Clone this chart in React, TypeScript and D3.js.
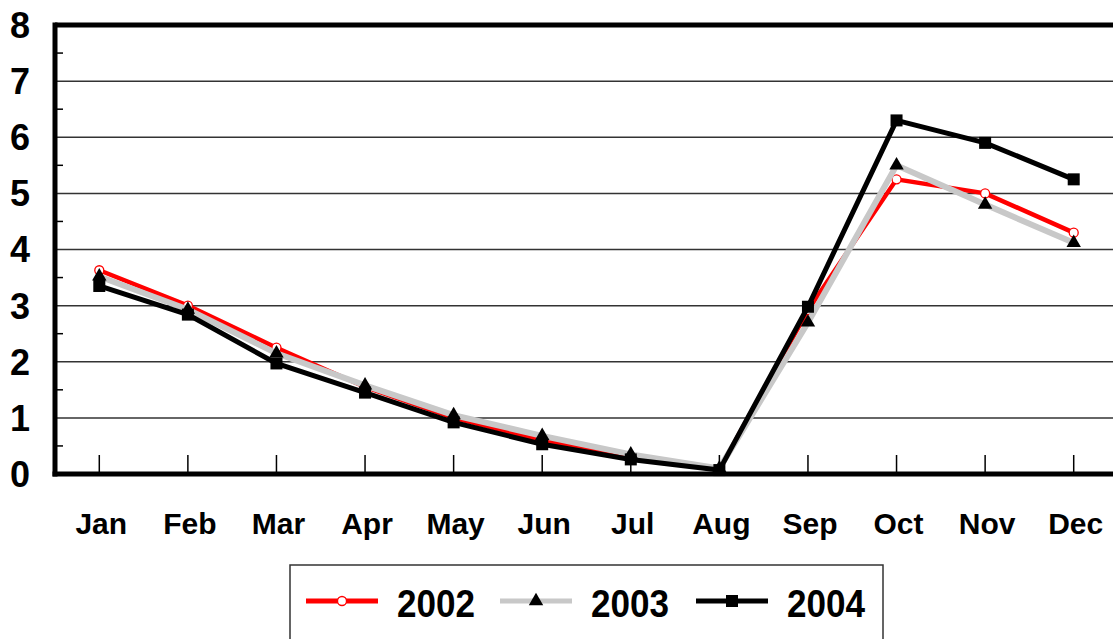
import React, { useEffect, useRef } from "react";
import * as d3 from "d3";

// chart data
const MONTHS = ["Jan", "Feb", "Mar", "Apr", "May", "Jun", "Jul", "Aug", "Sep", "Oct", "Nov", "Dec"];
const Y_TICKS = [0, 1, 2, 3, 4, 5, 6, 7, 8];
const S2002 = [3.63, 3.0, 2.25, 1.55, 1.0, 0.6, 0.3, 0.08, 2.92, 5.25, 5.0, 4.3];
const S2003 = [3.52, 2.93, 2.15, 1.58, 1.05, 0.68, 0.35, 0.1, 2.7, 5.5, 4.8, 4.12];
const S2004 = [3.35, 2.84, 1.97, 1.45, 0.92, 0.53, 0.26, 0.07, 2.98, 6.3, 5.9, 5.25];

const SERIES = [
  { name: "2002", values: S2002, color: "#ff0000", marker: "circle", width: 4.5 },
  { name: "2003", values: S2003, color: "#c8c8c8", marker: "triangle", width: 6 },
  { name: "2004", values: S2004, color: "#000000", marker: "square", width: 5 },
];

const FONT = "Arial, 'Liberation Sans', sans-serif";

export default function App() {
  const svgRef = useRef<SVGSVGElement>(null);
  const width = 1113;
  const height = 639;

  useEffect(() => {
    if (!svgRef.current) return;
    const svg = d3.select(svgRef.current);
    svg.selectAll("*").remove();

    const left = 55;
    const right = 1118; // plot runs past the visible edge
    const top = 25;
    const bottom = 474;

    const x = d3.scaleBand<string>().domain(MONTHS).range([left, right]);
    const cx = (m: string) => (x(m) || 0) + x.bandwidth() / 2;
    const y = d3.scaleLinear().domain([0, 8]).range([bottom, top]);

    const g = svg.append("g");

    // gridlines
    g.selectAll(".grid")
      .data(Y_TICKS.filter((d) => d > 0 && d < 8))
      .join("line")
      .attr("x1", left)
      .attr("x2", right)
      .attr("y1", (d) => y(d))
      .attr("y2", (d) => y(d))
      .attr("stroke", "#333")
      .attr("stroke-width", 1.5);

    // minor y ticks at half units
    g.selectAll(".minor")
      .data(d3.range(0.5, 8, 1))
      .join("line")
      .attr("x1", left)
      .attr("x2", left + 8)
      .attr("y1", (d) => y(d))
      .attr("y2", (d) => y(d))
      .attr("stroke", "#000")
      .attr("stroke-width", 1.5);

    // x ticks
    g.selectAll(".xtick")
      .data(MONTHS)
      .join("line")
      .attr("x1", (d) => cx(d))
      .attr("x2", (d) => cx(d))
      .attr("y1", bottom)
      .attr("y2", bottom - 19)
      .attr("stroke", "#000")
      .attr("stroke-width", 1.5);

    // frame
    g.append("line").attr("x1", left).attr("x2", right).attr("y1", top).attr("y2", top)
      .attr("stroke", "#000").attr("stroke-width", 5);
    g.append("line").attr("x1", left - 2.5).attr("x2", right).attr("y1", bottom).attr("y2", bottom)
      .attr("stroke", "#000").attr("stroke-width", 5);
    g.append("line").attr("x1", left).attr("x2", left).attr("y1", top - 2.5).attr("y2", bottom + 2.5)
      .attr("stroke", "#000").attr("stroke-width", 5);

    // y labels
    g.selectAll(".ylab")
      .data(Y_TICKS)
      .join("text")
      .attr("x", 30)
      .attr("y", (d) => y(d))
      .attr("dy", "0.36em")
      .attr("text-anchor", "end")
      .attr("font-family", FONT)
      .attr("font-weight", "bold")
      .attr("font-size", 36)
      .text((d) => d);

    // x labels
    g.selectAll(".xlab")
      .data(MONTHS)
      .join("text")
      .attr("x", (d) => cx(d) + 2)
      .attr("y", 534)
      .attr("text-anchor", "middle")
      .attr("font-family", FONT)
      .attr("font-weight", "bold")
      .attr("font-size", 30)
      .text((d) => d);

    const line = d3
      .line<number>()
      .x((_, i) => cx(MONTHS[i]))
      .y((d) => y(d));

    const drawMarker = (sel: any, kind: string, px: number, py: number) => {
      if (kind === "circle") {
        sel.append("circle").attr("cx", px).attr("cy", py).attr("r", 4.5)
          .attr("fill", "#fff").attr("stroke", "#ff0000").attr("stroke-width", 1.3);
      } else if (kind === "triangle") {
        sel.append("path")
          .attr("d", d3.symbol(d3.symbolTriangle, 90)())
          .attr("transform", `translate(${px},${py})`)
          .attr("fill", "#000");
      } else {
        sel.append("rect").attr("x", px - 6).attr("y", py - 6).attr("width", 12).attr("height", 12)
          .attr("fill", "#000");
      }
    };

    SERIES.forEach((s) => {
      const sg = g.append("g");
      sg.append("path")
        .datum(s.values)
        .attr("d", line)
        .attr("fill", "none")
        .attr("stroke", s.color)
        .attr("stroke-width", s.width)
        .attr("stroke-linejoin", "miter");
      s.values.forEach((v, i) => drawMarker(sg, s.marker, cx(MONTHS[i]), y(v)));
    });

    // legend
    const lg = svg.append("g");
    lg.append("rect")
      .attr("x", 290)
      .attr("y", 565)
      .attr("width", 593)
      .attr("height", 100)
      .attr("fill", "#fff")
      .attr("stroke", "#333")
      .attr("stroke-width", 1.5);

    const legendX = [306, 500, 696];
    SERIES.forEach((s, i) => {
      const lx = legendX[i];
      const ly = 601;
      const lgi = lg.append("g");
      lgi.append("line").attr("x1", lx).attr("x2", lx + 72).attr("y1", ly).attr("y2", ly)
        .attr("stroke", s.color).attr("stroke-width", 5);
      drawMarker(lgi, s.marker, lx + 36, ly);
      lgi.append("text")
        .attr("x", lx + 91)
        .attr("y", ly + 16)
        .attr("font-family", FONT)
        .attr("font-weight", "bold")
        .attr("font-size", 38)
        .attr("textLength", 78)
        .attr("lengthAdjust", "spacingAndGlyphs")
        .text(s.name);
    });
  }, []);

  return (
    <div style={{ position: "absolute", left: 0, top: 0, width, height, overflow: "hidden", background: "#fff" }}>
      <svg ref={svgRef} width={width} height={height} style={{ display: "block" }} />
    </div>
  );
}
